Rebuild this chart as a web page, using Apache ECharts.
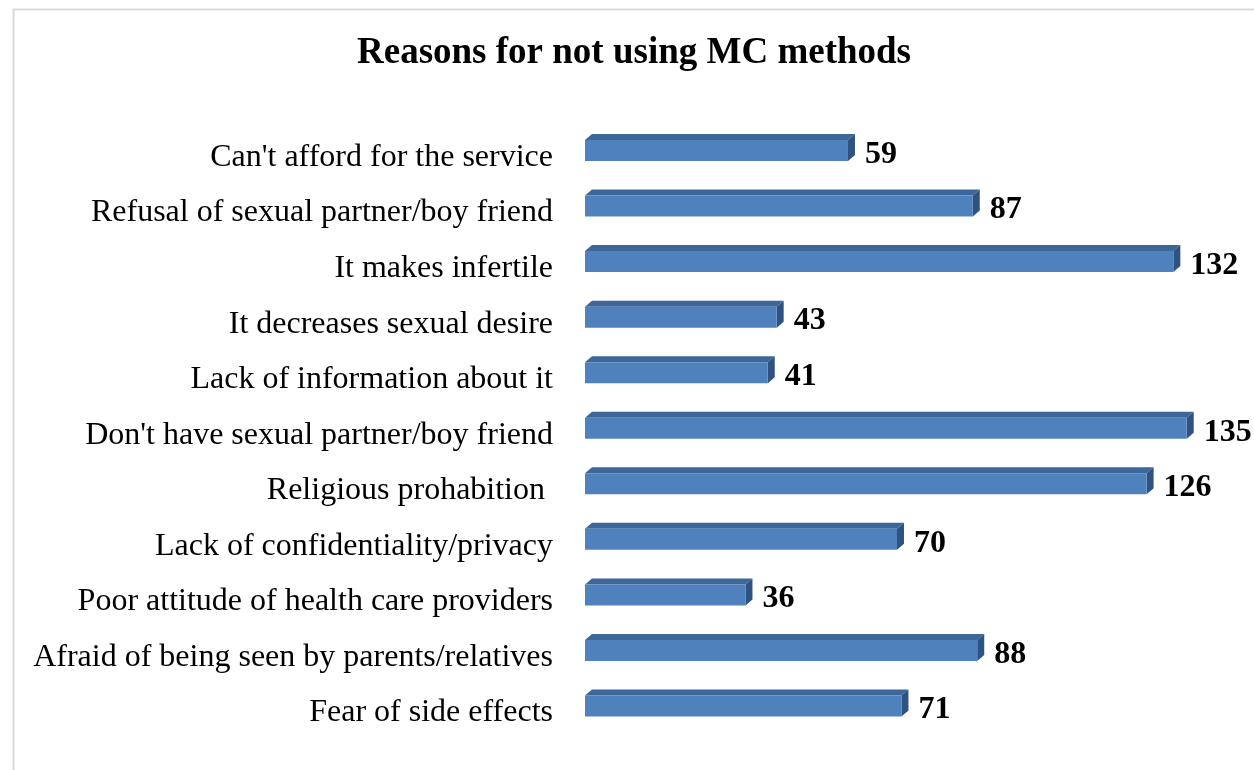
<!DOCTYPE html>
<html>
<head>
<meta charset="utf-8">
<script src="https://cdn.jsdelivr.net/npm/echarts@6/dist/echarts.min.js"></script>
<style>
html,body{margin:0;padding:0;background:#fff;}
#chart{width:1254px;height:770px;}
</style>
</head>
<body>
<div id="chart"></div>
<script>
var categories = [
  "Can't afford for the service",
  "Refusal of sexual partner/boy friend",
  "It makes infertile",
  "It decreases sexual desire",
  "Lack of information about it",
  "Don't have sexual partner/boy friend",
  "Religious prohabition ",
  "Lack of confidentiality/privacy",
  "Poor attitude of health care providers",
  "Afraid of being seen by parents/relatives",
  "Fear of side effects"
];
var values = [59, 87, 132, 43, 41, 135, 126, 70, 36, 88, 71];

var chart = echarts.init(document.getElementById('chart'));
var FONT = '"Liberation Serif", "Times New Roman", serif';
var DX = 7, DY = 6, BAR_H = 21;

function renderItem(params, api) {
  var v = api.value(1);
  var c = api.value(0);
  var p0 = api.coord([0, c]);
  var p1 = api.coord([v, c]);
  var x0 = p0[0], x1 = p1[0];
  var yc = p0[1];
  var yt = yc - BAR_H / 2, yb = yc + BAR_H / 2;
  return {
    type: 'group',
    children: [
      { type: 'polygon', shape: { points: [[x0, yt], [x0 + DX, yt - DY], [x1 + DX, yt - DY], [x1, yt]] },
        style: { fill: '#3D6699' } },
      { type: 'polygon', shape: { points: [[x1, yt], [x1 + DX, yt - DY], [x1 + DX, yb - DY], [x1, yb]] },
        style: { fill: '#2F5280' } },
      { type: 'rect', shape: { x: x0, y: yt, width: x1 - x0, height: BAR_H },
        style: { fill: '#4F81BD' } },
      { type: 'text', x: x1 + 17, y: yc + 4,
        style: { text: String(v), fill: '#000', font: 'bold 32px ' + FONT, verticalAlign: 'middle', align: 'left' } },
      { type: 'text', x: x0 - 32, y: yc + 7,
        style: { text: categories[c], fill: '#000', font: '32px ' + FONT, verticalAlign: 'middle', align: 'right' } }
    ]
  };
}

chart.setOption({
  backgroundColor: '#fff',
  animation: false,
  graphic: [{
    type: 'rect', left: 11, top: 7, shape: { x: 0, y: 0, width: 1400, height: 900 },
    style: { fill: 'none', stroke: '#D9D9D9', lineWidth: 2 }, silent: true
  }],
  title: {
    text: 'Reasons for not using MC methods',
    left: 629, textAlign: 'center', top: 30,
    textStyle: { fontFamily: FONT, fontWeight: 'bold', fontSize: 37, color: '#000' }
  },
  grid: { left: 585, right: 45, top: 122.7, bottom: 36.2, containLabel: false },
  xAxis: { type: 'value', min: 0, max: 140, show: false },
  yAxis: {
    type: 'category', data: categories, inverse: true,
    axisLine: { show: false }, axisTick: { show: false }, splitLine: { show: false },
    axisLabel: { show: false }
  },
  series: [{
    type: 'custom',
    renderItem: renderItem,
    encode: { x: 1, y: 0 },
    data: values.map(function (v, i) { return [i, v]; })
  }]
});
</script>
</body>
</html>
